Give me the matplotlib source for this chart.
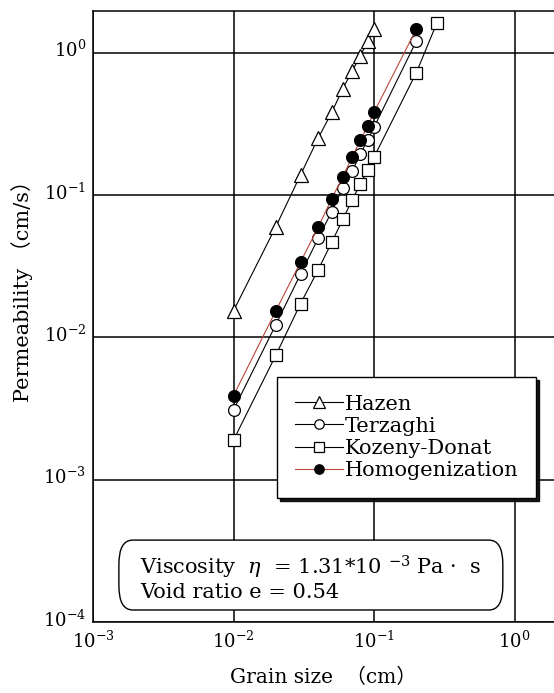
import matplotlib
matplotlib.use("Agg")
from matplotlib import pyplot as plt
from matplotlib.patches import FancyBboxPatch
import matplotlib.transforms as mtransforms
import numpy as np

plt.rcParams['font.family'] = ['DejaVu Serif', 'Noto Sans CJK JP']
plt.rcParams['mathtext.fontset'] = 'dejavuserif'

# grain sizes (cm)
grain_hazen = [0.01, 0.02, 0.03, 0.04, 0.05, 0.06, 0.07, 0.08, 0.09, 0.1]
grain_other = [0.01, 0.02, 0.03, 0.04, 0.05, 0.06, 0.07, 0.08, 0.09, 0.1, 0.2]
grain_kozeny = [0.01, 0.02, 0.03, 0.04, 0.05, 0.06, 0.07, 0.08, 0.09, 0.1, 0.2, 0.28]

# permeability (cm/s)
k_hazen = [0.0154, 0.060, 0.139, 0.251, 0.382, 0.56, 0.75, 0.95, 1.21, 1.47]
k_terzaghi = [0.0031, 0.0123, 0.0279, 0.0497, 0.0767, 0.113, 0.148, 0.195, 0.244, 0.30, 1.21]
k_kozeny = [0.0019, 0.0075, 0.0173, 0.0298, 0.0467, 0.0675, 0.093, 0.120, 0.151, 0.185, 0.726, 1.62]
k_homog = [0.0039, 0.0154, 0.0339, 0.0594, 0.0946, 0.135, 0.186, 0.244, 0.305, 0.382, 1.47]

fig = plt.figure(figsize=(5.54, 6.93), dpi=100)
ax = fig.add_axes([0.168, 0.1025, 0.832, 0.8817])

ax.plot(grain_hazen, k_hazen, color='black', lw=0.8, marker='^', ms=10,
        mfc='white', mec='black', mew=0.9, label='Hazen')
ax.plot(grain_other, k_terzaghi, color='black', lw=0.8, marker='o', ms=8.5,
        mfc='white', mec='black', mew=0.9, label='Terzaghi')
ax.plot(grain_kozeny, k_kozeny, color='black', lw=0.8, marker='s', ms=9,
        mfc='white', mec='black', mew=0.9, label='Kozeny-Donat')
ax.plot(grain_other, k_homog, color='#b8483a', lw=0.8, marker='o', ms=8.5,
        mfc='black', mec='black', mew=0.9, label='Homogenization')

ax.set_xscale('log')
ax.set_yscale('log')
ax.set_xlim(1e-3, 1.91)
ax.set_ylim(1e-4, 1.97)
ax.set_xticks([1e-3, 1e-2, 1e-1, 1e0])
ax.set_yticks([1e-4, 1e-3, 1e-2, 1e-1, 1e0])
ax.minorticks_off()
ax.tick_params(length=0, labelsize=13)
ax.tick_params(axis='x', pad=6)
ax.tick_params(axis='y', pad=5)
shift = mtransforms.ScaledTranslation(0, 3 / 72, fig.dpi_scale_trans)
for lab in ax.get_yticklabels():
    lab.set_transform(lab.get_transform() + shift)
ax.grid(True, color='black', lw=1.1)
for s in ax.spines.values():
    s.set_linewidth(1.1)
ax.spines['right'].set_visible(False)

ax.set_ylabel('Permeability （cm/s）', fontsize=15)
ax.yaxis.set_label_coords(-0.13, 0.55)
ax.set_xlabel('Grain size  （cm）', fontsize=14.5, labelpad=12)

leg = ax.legend(loc='upper left', bbox_to_anchor=(0.399, 0.401), fontsize=15,
                frameon=True, fancybox=False,
                shadow={'color': 'black', 'alpha': 0.9},
                handlelength=2.3, handletextpad=0.1, labelspacing=0.15,
                borderpad=0.85, borderaxespad=0, markerscale=0.8)
leg.get_frame().set_edgecolor('black')
leg.get_frame().set_linewidth(1.0)
leg.get_frame().set_alpha(1)

box = FancyBboxPatch((0.056, 0.0196), 0.833, 0.1144,
                     boxstyle='round,pad=0,rounding_size=0.03',
                     mutation_aspect=611 / 461,
                     transform=ax.transAxes, facecolor='white',
                     edgecolor='black', lw=1.0, zorder=5)
ax.add_patch(box)
ax.text(0.102, 0.090, r'Viscosity  $\eta$  = 1.31*10 $^{-3}$ Pa ·  s',
        transform=ax.transAxes, fontsize=15, va='center', zorder=6)
ax.text(0.102, 0.049, 'Void ratio e = 0.54',
        transform=ax.transAxes, fontsize=15, va='center', zorder=6)

fig.savefig('out.png', dpi=100)
